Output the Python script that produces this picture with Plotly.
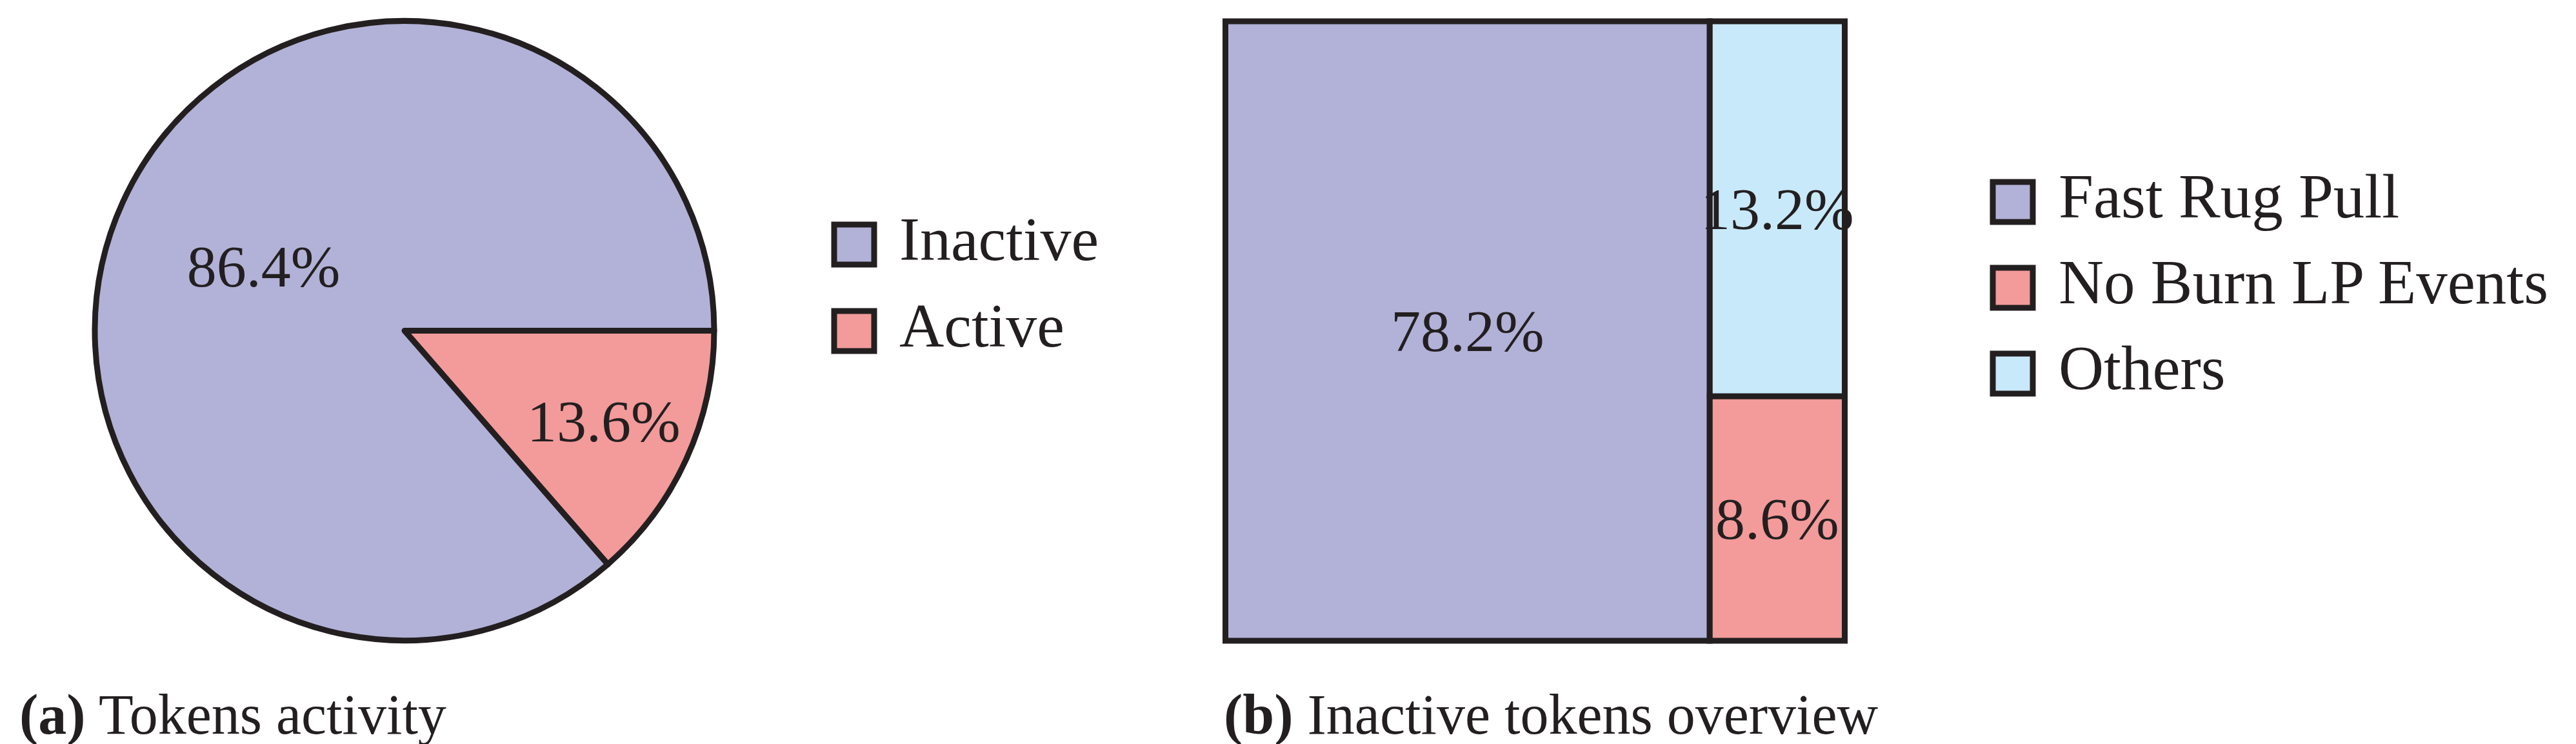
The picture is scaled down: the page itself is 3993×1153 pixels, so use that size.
import plotly.graph_objects as go

# ---------------- data ----------------
activity_labels = ["Inactive", "Active"]
activity_values = [86.4, 13.6]
activity_colors = ["#B2B1D7", "#F39A9A"]

inactive_labels = ["Fast Rug Pull", "No Burn LP Events", "Others"]
inactive_values = [78.2, 8.6, 13.2]
inactive_colors = ["#B2B1D7", "#F39A9A", "#C8E9FA"]

caption_a = "<b>(a)</b> Tokens activity"
caption_b = "<b>(b)</b> Inactive tokens overview"

# ---------------- style ----------------
FONT = "Liberation Serif"
INK = "#231F20"
W, H = 3993, 1153


def px(x):
    return x / W


def py(y):
    return 1 - y / H


fig = go.Figure()

# (a) pie chart: the "Active" slice starts at 3 o'clock and runs clockwise
fig.add_trace(go.Pie(
    labels=activity_labels[::-1], values=activity_values[::-1], sort=False,
    direction="clockwise", rotation=90,
    marker=dict(colors=activity_colors[::-1], line=dict(color=INK, width=9)),
    texttemplate="%{percent:.1%}", textposition="inside",
    insidetextorientation="horizontal",
    textfont=dict(family=FONT, size=92, color=INK),
    domain=dict(x=[px(139), px(1099)], y=[py(984.5), py(24.5)]),
    showlegend=False, hoverinfo="label+percent",
))

# (b) treemap
fig.add_trace(go.Treemap(
    labels=inactive_labels, parents=[""] * len(inactive_labels),
    values=inactive_values, sort=True,
    marker=dict(colors=inactive_colors, line=dict(color=INK, width=9),
                pad=dict(t=0, l=0, r=0, b=0)),
    tiling=dict(pad=0, packing="squarify"),
    texttemplate="%{value:.1f}%", textposition="middle center",
    textfont=dict(family=FONT, size=92, color=INK),
    pathbar=dict(visible=False),
    domain=dict(x=[px(1891.5), px(2851.5)], y=[py(985), py(25)]),
))

# legend (a): swatches + labels on hidden axes
fig.add_trace(go.Scatter(
    x=[0] * len(activity_labels), y=list(range(len(activity_labels))),
    mode="markers", cliponaxis=False, hoverinfo="skip",
    marker=dict(symbol="square", size=62, color=activity_colors,
                line=dict(color=INK, width=9)),
    xaxis="x", yaxis="y", showlegend=False,
))
fig.add_trace(go.Scatter(
    x=[1] * len(activity_labels), y=list(range(len(activity_labels))),
    mode="text", text=activity_labels, textposition="middle right",
    cliponaxis=False, hoverinfo="skip",
    textfont=dict(family=FONT, size=96, color=INK),
    xaxis="x", yaxis="y", showlegend=False,
))

# legend (b)
fig.add_trace(go.Scatter(
    x=[0] * len(inactive_labels), y=list(range(len(inactive_labels))),
    mode="markers", cliponaxis=False, hoverinfo="skip",
    marker=dict(symbol="square", size=62, color=inactive_colors,
                line=dict(color=INK, width=9)),
    xaxis="x2", yaxis="y2", showlegend=False,
))
fig.add_trace(go.Scatter(
    x=[1] * len(inactive_labels), y=list(range(len(inactive_labels))),
    mode="text", text=inactive_labels, textposition="middle right",
    cliponaxis=False, hoverinfo="skip",
    textfont=dict(family=FONT, size=97, color=INK),
    xaxis="x2", yaxis="y2", showlegend=False,
))

hidden = dict(visible=False, showgrid=False, zeroline=False, fixedrange=True)

fig.update_layout(
    width=W, height=H,
    margin=dict(l=0, r=0, t=0, b=0),
    paper_bgcolor="white", plot_bgcolor="rgba(0,0,0,0)",
    showlegend=False,
    uniformtext=dict(minsize=92, mode="show"),
    xaxis=dict(domain=[px(1316), px(1386)], range=[0, 1], **hidden),
    yaxis=dict(domain=[py(505), py(371)], range=[1, 0], **hidden),
    xaxis2=dict(domain=[px(3112), px(3183)], range=[0, 1], anchor="y2", **hidden),
    yaxis2=dict(domain=[py(571), py(305)], range=[2, 0], anchor="x2", **hidden),
    annotations=[
        dict(text=caption_a, x=px(20), y=py(1099), xref="paper", yref="paper",
             xanchor="left", yanchor="middle", showarrow=False,
             font=dict(family=FONT, size=88, color=INK)),
        dict(text=caption_b, x=px(1887), y=py(1099), xref="paper", yref="paper",
             xanchor="left", yanchor="middle", showarrow=False,
             font=dict(family=FONT, size=88, color=INK)),
    ],
)

fig.write_html("out.html")
